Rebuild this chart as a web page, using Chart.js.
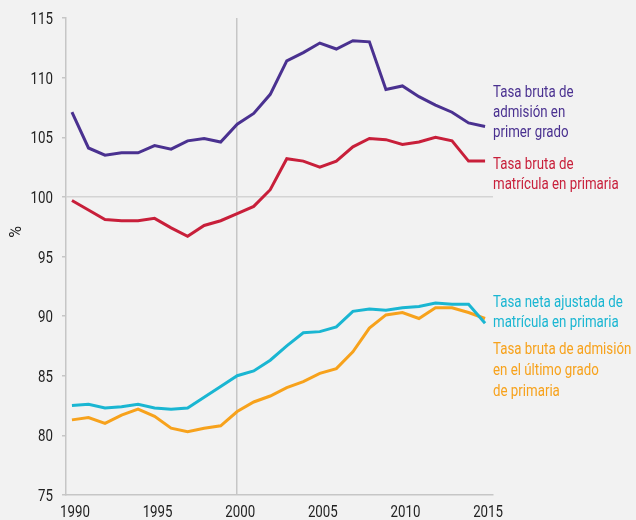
<!DOCTYPE html>
<html>
<head>
<meta charset="utf-8">
<script src="https://cdn.jsdelivr.net/npm/chart.js@4/dist/chart.umd.min.js"></script>
<style>
  html, body { margin: 0; padding: 0; background: #f2f2f2; }
  #wrap { width: 636px; height: 520px; position: relative; }
</style>
</head>
<body>
<div id="wrap"><canvas id="chart"></canvas></div>
<script>
const years = [1990, 1991, 1992, 1993, 1994, 1995, 1996, 1997, 1998, 1999, 2000, 2001, 2002,
  2003, 2004, 2005, 2006, 2007, 2008, 2009, 2010, 2011, 2012, 2013, 2014, 2015];

const admisionPrimerGrado = [107.1, 104.1, 103.5, 103.7, 103.7, 104.3, 104.0, 104.7, 104.9, 104.6, 106.1, 107.0, 108.6,
  111.4, 112.1, 112.9, 112.4, 113.1, 113.0, 109.0, 109.3, 108.4, 107.7, 107.1, 106.2, 105.9];
const matriculaBruta = [99.7, 98.9, 98.1, 98.0, 98.0, 98.2, 97.4, 96.7, 97.6, 98.0, 98.6, 99.2, 100.6,
  103.2, 103.0, 102.5, 103.0, 104.2, 104.9, 104.8, 104.4, 104.6, 105.0, 104.7, 103.0, 103.0];
const matriculaNetaAjustada = [82.5, 82.6, 82.3, 82.4, 82.6, 82.3, 82.2, 82.3, 83.2, 84.1, 85.0, 85.4, 86.3,
  87.5, 88.6, 88.7, 89.1, 90.4, 90.6, 90.5, 90.7, 90.8, 91.1, 91.0, 91.0, 89.4];
const admisionUltimoGrado = [81.3, 81.5, 81.0, 81.7, 82.2, 81.6, 80.6, 80.3, 80.6, 80.8, 82.0, 82.8, 83.3,
  84.0, 84.5, 85.2, 85.6, 87.0, 89.0, 90.1, 90.3, 89.8, 90.7, 90.7, 90.3, 89.8];

const xTicks = [1990, 1995, 2000, 2005, 2010, 2015];
const yTicks = [75, 80, 85, 90, 95, 100, 105, 110, 115];

const PURPLE = "#4a3190";
const RED = "#c81f3a";
const CYAN = "#1ab6d2";
const ORANGE = "#f7a21c";
const AXIS = "#c6c6c6";
const TEXT = "#222";
const FONT = "16px Roboto, sans-serif";
const SQUEEZE = 0.83; // the original face is a condensed one

const seriesLabels = [
  { lines: ["Tasa bruta de", "admisión en", "primer grado"], color: PURPLE, y: 93, lh: 20 },
  { lines: ["Tasa bruta de", "matrícula en primaria"], color: RED, y: 165, lh: 20 },
  { lines: ["Tasa neta ajustada de", "matrícula en primaria"], color: CYAN, y: 303, lh: 20 },
  { lines: ["Tasa bruta de admisión", "en el último grado", "de primaria"], color: ORANGE, y: 350, lh: 21 }
];

const toPoints = (vals) => vals.map((v, i) => ({ x: years[i], y: v }));

const lineSet = (label, vals, color) => ({
  label,
  data: toPoints(vals),
  borderColor: color,
  backgroundColor: color,
  borderWidth: 3,
  pointRadius: 0,
  tension: 0,
  borderJoinStyle: "miter"
});

function narrowText(ctx, text, x, y, align) {
  ctx.save();
  ctx.translate(x, y);
  ctx.scale(SQUEEZE, 1);
  ctx.textAlign = align;
  ctx.fillText(text, 0, 0);
  ctx.restore();
}

// tick labels, side labels and the rotated "%" title
const annotations = {
  id: "annotations",
  afterDraw(chart) {
    const { ctx, chartArea, scales } = chart;
    ctx.save();
    ctx.font = FONT;
    ctx.textBaseline = "middle";
    ctx.fillStyle = TEXT;
    scales.y.ticks.forEach((t) => narrowText(ctx, String(t.value), 53, scales.y.getPixelForValue(t.value) + 2, "right"));
    ctx.textBaseline = "alphabetic";
    scales.x.ticks.forEach((t) => narrowText(ctx, String(t.value), scales.x.getPixelForValue(t.value) + 3, 517, "center"));

    ctx.textBaseline = "middle";
    seriesLabels.forEach((block) => {
      ctx.fillStyle = block.color;
      block.lines.forEach((line, i) => narrowText(ctx, line, chartArea.right, block.y + i * block.lh, "left"));
    });

    ctx.fillStyle = TEXT;
    ctx.translate(17, 232);
    ctx.rotate(-Math.PI / 2);
    ctx.textAlign = "center";
    ctx.fillText("%", 0, 0);
    ctx.restore();
  }
};

new Chart(document.getElementById("chart"), {
  type: "line",
  data: {
    datasets: [
      lineSet("Tasa bruta de admisión en primer grado", admisionPrimerGrado, PURPLE),
      lineSet("Tasa bruta de matrícula en primaria", matriculaBruta, RED),
      lineSet("Tasa neta ajustada de matrícula en primaria", matriculaNetaAjustada, CYAN),
      lineSet("Tasa bruta de admisión en el último grado de primaria", admisionUltimoGrado, ORANGE)
    ]
  },
  options: {
    responsive: true,
    maintainAspectRatio: false,
    animation: false,
    layout: { padding: { top: 18, right: 143, bottom: 0, left: 0 } },
    plugins: { legend: { display: false }, tooltip: { enabled: false } },
    scales: {
      x: {
        type: "linear",
        min: 1989.64,
        max: 2015.48,
        afterBuildTicks: (scale) => { scale.ticks = xTicks.map((v) => ({ value: v })); },
        afterFit: (scale) => { scale.height = 25; },
        grid: {
          drawTicks: false,
          color: (c) => (c.tick && c.tick.value === 2000 ? AXIS : "rgba(0,0,0,0)"),
          lineWidth: 1.5
        },
        border: { display: true, color: AXIS, width: 1.5 },
        ticks: { display: false }
      },
      y: {
        min: 75,
        max: 115,
        afterBuildTicks: (scale) => { scale.ticks = yTicks.map((v) => ({ value: v })); },
        afterFit: (scale) => { scale.width = 66; },
        grid: {
          color: (c) => (c.tick && c.tick.value === 100 ? "#d4d4d4" : "rgba(0,0,0,0)"),
          tickColor: AXIS,
          tickLength: 4,
          lineWidth: 1.5
        },
        border: { display: true, color: AXIS, width: 1.5 },
        ticks: { display: false }
      }
    }
  },
  plugins: [annotations]
});
</script>
</body>
</html>
